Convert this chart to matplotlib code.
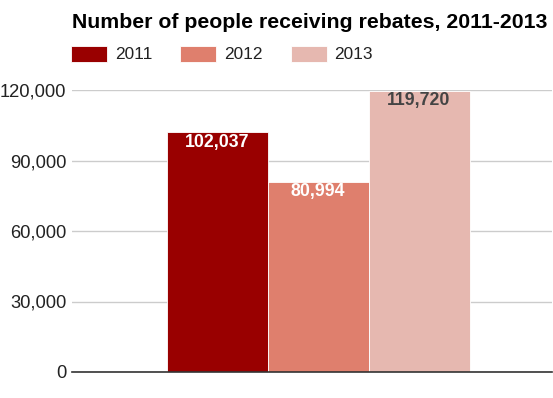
import matplotlib.pyplot as plt
from matplotlib.ticker import FuncFormatter

years = ["2011", "2012", "2013"]
values = [102037, 80994, 119720]
colors = ["#990000", "#df7f6d", "#e6b8b0"]
label_colors = ["white", "white", "#444444"]
yticks = [0, 30000, 60000, 90000, 120000]

plt.rcParams["font.family"] = ["Liberation Sans", "DejaVu Sans"]

W, H = 553, 398
fig = plt.figure(figsize=(W / 100, H / 100), dpi=100)
ax = fig.add_axes([72 / W, 1 - 372 / H, 480 / W, 282 / H])

px = 101.0
positions = [-1, 0, 1]
for x, v, c, lc, yr in zip(positions, values, colors, label_colors, years):
    ax.bar(x, v, width=1.0, color=c, edgecolor="white", linewidth=0.6,
           label=yr, zorder=3)
    ax.text(x, v - 4300, f"{v:,}", ha="center", va="center", color=lc,
            fontsize=12.8, fontweight="bold", zorder=4)

ax.set_xlim((72 - 318) / px, (552 - 318) / px)
ax.set_ylim(0, 120000)
ax.set_yticks(yticks)
ax.yaxis.set_major_formatter(FuncFormatter(lambda v, p: f"{int(v):,}"))
ax.set_xticks([])
ax.grid(axis="y", color="#cccccc", linewidth=1, zorder=0)
for s in ["top", "right", "left"]:
    ax.spines[s].set_visible(False)
ax.spines["bottom"].set_color("#333333")
ax.spines["bottom"].set_linewidth(1.2)
ax.spines["bottom"].set_zorder(5)
ax.tick_params(axis="y", length=0, pad=4, labelsize=13.2, labelcolor="#222222")

fig.text(72 / W, 1 - 22 / H, "Number of people receiving rebates, 2011-2013",
         ha="left", va="center", fontsize=15.3, fontweight="bold", color="black")

leg = ax.legend(loc="center left", bbox_to_anchor=(71 / W, 1 - 54 / H),
                bbox_transform=fig.transFigure, ncol=3, frameon=False,
                fontsize=12.4, handlelength=2.1, handleheight=1.05,
                handletextpad=0.45, columnspacing=1.62, borderaxespad=0,
                borderpad=0)
for t in leg.get_texts():
    t.set_color("#222222")

fig.savefig("out.png", dpi=100)
